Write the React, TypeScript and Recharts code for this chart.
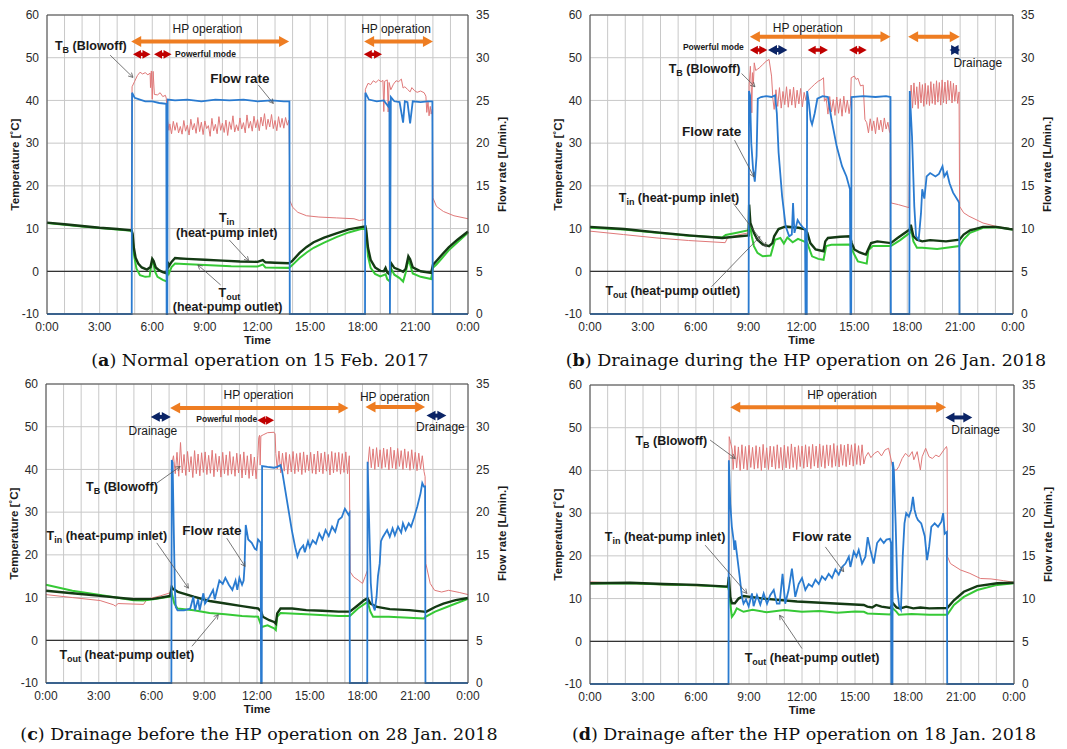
import React from 'react';
import { LineChart, Line, XAxis, YAxis, CartesianGrid, ReferenceLine, ReferenceDot } from 'recharts';

type Pt = [number, number];

// axis ticks
const HOURS = [0, 1, 2, 3, 4, 5, 6, 7, 8, 9, 10, 11, 12, 13, 14, 15, 16, 17, 18, 19, 20, 21, 22, 23, 24];
const TEMP_TICKS = [-10, 0, 10, 20, 30, 40, 50, 60];
const FLOW_TICKS = [0, 5, 10, 15, 20, 25, 30, 35];

// (a) 15 Feb. 2017 — [hour, value]
const aBlowoff: Pt[] = [
  [0, 11.3], [2, 10.5], [4.8, 9.6], [4.85, 43.2], [5.0, 44.5], [5.15, 45.8], [5.3, 46.6], [5.45, 46.2], [5.6, 46.5], [5.75, 46.0],
  [5.88, 46.4], [5.9, 43.0], [5.95, 46.9], [6.0, 40.3], [6.05, 46.8], [6.12, 41.4], [6.3, 41.3], [6.45, 41.8], [6.6, 40.9], [6.75, 41.2],
  [6.8, 40.5], [6.88, 35.2], [6.95, 33.0],
  [7.0, 34.5], [7.1, 32.2], [7.2, 35.1], [7.3, 33.0], [7.4, 34.8], [7.5, 32.4], [7.6, 33.9], [7.7, 32.1], [7.8, 35.3], [7.9, 32.8],
  [8.0, 34.2], [8.1, 31.9], [8.2, 35.6], [8.3, 33.1], [8.4, 34.6], [8.5, 32.3], [8.6, 36.0], [8.7, 32.7], [8.8, 34.9], [8.9, 32.0],
  [9.0, 35.2], [9.1, 33.4], [9.2, 34.1], [9.3, 31.6], [9.4, 35.8], [9.5, 32.9], [9.6, 34.4], [9.7, 32.2], [9.8, 36.2], [9.9, 33.0],
  [10.0, 34.7], [10.1, 32.5], [10.2, 35.4], [10.3, 31.8], [10.4, 35.0], [10.5, 33.2], [10.6, 36.4], [10.7, 32.6], [10.8, 34.3], [10.9, 32.9],
  [11.0, 35.9], [11.1, 33.3], [11.2, 34.8], [11.3, 32.4], [11.4, 36.6], [11.5, 33.5], [11.6, 35.1], [11.7, 32.8], [11.8, 36.3], [11.9, 33.6],
  [12.0, 35.5], [12.1, 32.9], [12.2, 36.1], [12.3, 34.0], [12.4, 36.9], [12.5, 33.2], [12.6, 35.6], [12.7, 33.8], [12.8, 36.7], [12.9, 33.4],
  [13.0, 35.3], [13.1, 32.9], [13.2, 36.2], [13.3, 33.7], [13.4, 35.8], [13.5, 33.5], [13.6, 36.0], [13.7, 34.2], [13.8, 35.4],
  [13.85, 16.5], [14.0, 15.0], [14.3, 13.8], [14.8, 13.0], [15.5, 12.7], [16.5, 12.5], [17.5, 12.3], [17.8, 11.9], [18.1, 12.1],
  [18.15, 42.6], [18.3, 44.0], [18.45, 43.7], [18.6, 44.6], [18.75, 44.2], [18.9, 44.8], [19.05, 44.4], [19.15, 44.7], [19.2, 37.4],
  [19.25, 44.5], [19.4, 44.8], [19.45, 37.3], [19.5, 44.2], [19.6, 42.5], [19.75, 43.8], [19.9, 44.6], [20.05, 44.4], [20.2, 45.0],
  [20.3, 42.9], [20.4, 43.2], [20.55, 42.6], [20.7, 42.0], [20.8, 43.0], [20.95, 42.3], [21.1, 41.9], [21.3, 42.2], [21.5, 41.8],
  [21.6, 41.0], [21.65, 37.2], [21.72, 39.8], [21.78, 36.4], [21.85, 38.6], [21.9, 36.8], [21.97, 38.0], [22.0, 17.2], [22.2, 15.2],
  [22.6, 14.0], [23.2, 13.0], [24, 12.3],
];
const aTin: Pt[] = [
  [0, 11.4], [1, 11.0], [2, 10.6], [3, 10.2], [4, 9.9], [4.82, 9.6], [4.88, 8.8], [4.95, 5.5], [5.05, 3.2], [5.2, 1.8], [5.4, 0.9],
  [5.7, 0.4], [5.9, 1.0], [6.0, 2.9], [6.08, 2.4], [6.2, 0.9], [6.4, 0.2], [6.6, -0.2], [6.83, -0.5], [6.88, 2.2], [6.95, 1.2],
  [7.1, 2.2], [7.3, 3.1], [7.6, 3.0], [8.0, 2.9], [9.0, 2.7], [10.0, 2.5], [11.0, 2.3], [12.0, 2.2], [12.3, 2.6], [12.45, 2.1],
  [13.0, 2.0], [13.8, 1.9], [14.0, 2.5], [14.4, 4.3], [14.8, 5.7], [15.2, 6.8], [15.8, 7.9], [16.5, 8.9], [17.2, 9.8], [18.15, 10.5],
  [18.2, 9.5], [18.3, 5.5], [18.45, 2.7], [18.7, 0.9], [19.0, 0.1], [19.2, 0.0], [19.3, 0.8], [19.4, -0.3], [19.55, -0.8], [19.6, 2.0],
  [19.8, 0.8], [20.1, 0.3], [20.3, -0.1], [20.45, 0.6], [20.6, 3.5], [20.7, 2.8], [20.85, 0.9], [21.3, 0.0], [21.9, -0.4], [22.0, 1.5],
  [22.2, 2.4], [22.5, 3.8], [22.9, 5.6], [23.4, 7.4], [24, 9.3],
];
const aTout: Pt[] = [
  [0, 11.3], [2, 10.5], [4, 9.8], [4.82, 9.5], [4.88, 8.0], [4.95, 4.0], [5.1, 0.6], [5.3, -0.9], [5.6, -1.3], [5.85, -1.2],
  [5.95, 1.6], [6.05, 2.3], [6.15, 0.0], [6.3, -1.3], [6.6, -2.0], [6.83, -2.4], [6.88, 0.4], [6.95, -0.5], [7.1, 1.0], [7.3, 1.8],
  [7.8, 1.7], [9.0, 1.5], [10.5, 1.2], [12.0, 1.1], [12.3, 1.6], [12.45, 0.9], [13.8, 0.8], [14.0, 1.5], [14.4, 3.1], [14.8, 4.4],
  [15.2, 5.5], [15.8, 6.7], [16.5, 8.0], [17.2, 9.1], [18.15, 10.2], [18.2, 8.8], [18.3, 3.5], [18.45, 0.8], [18.7, -0.6], [19.0, -1.2],
  [19.3, -0.7], [19.4, -1.9], [19.55, -2.4], [19.6, 0.8], [19.8, -0.8], [20.1, -1.6], [20.3, -2.4], [20.45, -0.3], [20.6, 2.7],
  [20.7, 1.6], [20.85, -0.5], [21.3, -1.3], [21.9, -1.8], [22.0, 0.8], [22.2, 1.6], [22.5, 3.0], [22.9, 4.9], [23.4, 6.8], [24, 9.0],
];
const aFlow: Pt[] = [
  [0, 0], [4.83, 0], [4.85, 25.9], [5.0, 25.3], [5.3, 25.1], [5.6, 24.9], [6.0, 24.9], [6.4, 24.7], [6.8, 24.6], [6.82, 0], [6.86, 0],
  [6.88, 25.1], [7.3, 25.0], [8.0, 25.1], [8.8, 24.9], [9.6, 25.1], [10.4, 25.0], [11.2, 25.1], [12.0, 24.9], [12.8, 25.0], [13.5, 24.9],
  [13.82, 24.9], [13.84, 0], [18.13, 0], [18.15, 25.9], [18.35, 25.1], [18.8, 24.9], [19.2, 25.0], [19.45, 24.3], [19.52, 24.9],
  [19.55, 0], [19.6, 25.4], [19.8, 24.9], [20.1, 24.8], [20.3, 22.4], [20.4, 24.9], [20.55, 24.8], [20.7, 22.3], [20.85, 24.9],
  [21.3, 24.8], [21.7, 24.9], [21.97, 24.9], [21.99, 0], [24, 0],
];

// (b) 26 Jan. 2018
const bBlowoff: Pt[] = [
  [0, 9.4], [1.9, 8.6], [3.8, 7.8], [5.6, 7.2], [7.67, 6.7], [7.8, 7.8], [8.5, 8.6], [9.0, 9.0], [9.03, 43.4], [9.1, 48.0], [9.15, 43.0],
  [9.18, 37.1], [9.22, 46.5], [9.27, 43.8], [9.32, 48.8], [9.4, 47.0], [9.5, 47.3], [9.6, 47.6], [9.8, 48.4], [10.0, 49.2], [10.16, 49.6],
  [10.3, 45.7], [10.38, 40.2], [10.45, 37.9], [10.55, 42.5], [10.65, 38.6], [10.75, 43.0], [10.85, 38.2], [10.95, 42.1], [11.05, 39.0],
  [11.15, 43.2], [11.25, 38.4], [11.35, 42.6], [11.45, 38.9], [11.55, 43.1], [11.65, 38.3], [11.75, 42.4], [11.85, 39.2], [11.95, 42.8],
  [12.05, 38.5], [12.15, 41.9], [12.25, 40.0], [12.35, 42.2], [12.55, 43.0], [12.75, 43.8], [12.95, 44.5], [13.1, 44.8], [13.25, 45.3],
  [13.3, 39.8], [13.4, 40.5], [13.5, 36.8], [13.6, 40.9], [13.7, 37.3], [13.8, 40.2], [13.9, 36.5], [14.0, 40.8], [14.1, 37.0],
  [14.2, 40.4], [14.3, 36.3], [14.4, 41.0], [14.5, 37.2], [14.6, 40.1], [14.7, 36.9], [14.78, 39.2], [14.82, 45.3], [15.0, 45.7],
  [15.1, 44.9], [15.2, 45.2], [15.35, 43.4], [15.5, 43.6], [15.6, 35.5], [15.7, 34.8], [15.8, 32.4], [15.9, 35.7], [16.0, 32.9],
  [16.1, 35.2], [16.2, 32.2], [16.3, 36.0], [16.4, 33.1], [16.5, 35.4], [16.6, 32.6], [16.7, 35.9], [16.8, 33.3], [16.9, 34.9],
  [17.0, 32.5], [17.05, 34.4], [17.08, 16.0], [17.5, 15.6], [18.1, 14.9], [18.15, 38.5], [18.22, 43.6], [18.3, 38.2], [18.38, 44.1],
  [18.46, 39.0], [18.54, 43.2], [18.62, 38.1], [18.7, 44.3], [18.78, 39.4], [18.86, 43.7], [18.94, 38.6], [19.02, 44.0], [19.1, 39.1],
  [19.18, 43.5], [19.26, 38.8], [19.34, 44.4], [19.42, 39.3], [19.5, 43.9], [19.58, 39.0], [19.66, 44.6], [19.74, 39.6], [19.82, 44.2],
  [19.9, 38.9], [19.98, 44.8], [20.06, 39.5], [20.14, 44.3], [20.22, 39.2], [20.3, 44.7], [20.38, 40.1], [20.46, 44.5], [20.54, 39.4],
  [20.62, 44.0], [20.7, 39.8], [20.78, 43.6], [20.86, 39.3], [20.94, 42.0], [20.97, 15.2], [21.2, 13.7], [21.5, 12.9], [22.3, 11.3],
  [23.05, 10.5], [23.8, 10.0], [24, 9.6],
];
const bTin: Pt[] = [
  [0, 10.4], [1.93, 9.9], [3.8, 9.1], [5.6, 8.4], [7.5, 7.8], [8.2, 8.1], [9.0, 8.4], [9.03, 15.6], [9.1, 11.3], [9.3, 9.0], [9.5, 7.4],
  [9.8, 6.3], [10.16, 5.9], [10.35, 6.6], [10.45, 8.2], [10.7, 9.9], [11.1, 10.5], [11.5, 10.3], [11.84, 10.2], [12.2, 9.8], [12.33, 9.0],
  [12.5, 6.6], [12.8, 5.1], [13.25, 4.7], [13.35, 7.0], [13.5, 7.8], [14.2, 8.1], [14.75, 8.2], [14.85, 6.6], [15.0, 5.1], [15.3, 4.4],
  [15.65, 3.9], [15.78, 5.1], [15.95, 6.6], [16.3, 7.0], [17.07, 6.6], [17.45, 7.8], [18.14, 9.8], [18.2, 10.9], [18.35, 8.2],
  [18.55, 7.4], [18.85, 7.0], [19.3, 7.3], [20.2, 7.0], [20.96, 7.4], [21.2, 8.6], [21.56, 9.6], [22.3, 10.4], [23.05, 10.4],
  [23.8, 9.9], [24, 9.8],
];
const bTout: Pt[] = [
  [0, 10.2], [1.9, 9.8], [3.8, 9.0], [5.6, 8.3], [7.5, 7.9], [7.7, 8.5], [8.4, 9.1], [9.0, 9.6], [9.03, 12.1], [9.18, 8.2], [9.3, 5.9],
  [9.5, 4.3], [9.8, 3.5], [10.25, 3.7], [10.4, 5.9], [10.5, 7.4], [10.8, 7.8], [11.0, 6.5], [11.2, 7.9], [11.5, 6.8], [11.8, 7.6],
  [12.2, 6.9], [12.33, 6.6], [12.6, 3.5], [12.95, 2.9], [13.25, 2.7], [13.4, 5.9], [13.7, 6.2], [14.75, 6.25], [14.95, 4.3], [15.2, 2.3],
  [15.7, 1.8], [15.8, 5.0], [16.05, 5.9], [17.07, 5.9], [17.6, 7.3], [18.14, 9.0], [18.2, 10.2], [18.35, 7.0], [18.55, 5.5],
  [18.85, 5.5], [19.7, 5.2], [20.96, 5.9], [21.2, 7.5], [21.56, 9.0], [22.3, 10.2], [23.05, 10.3], [23.8, 9.9], [24, 9.7],
];
const bFlow: Pt[] = [
  [0, 0], [9.0, 0], [9.02, 26.1], [9.08, 25.6], [9.15, 20.0], [9.25, 17.0], [9.35, 15.5], [9.45, 18.5], [9.52, 25.2], [9.7, 25.4],
  [10.0, 25.5], [10.3, 25.4], [10.5, 25.6], [10.6, 23.5], [10.7, 18.9], [10.9, 13.8], [11.1, 10.3], [11.3, 9.1], [11.45, 9.3],
  [11.52, 13.0], [11.6, 9.5], [11.78, 11.0], [11.9, 10.6], [12.05, 10.2], [12.2, 9.9], [12.23, 0], [12.3, 0], [12.32, 26.1],
  [12.42, 24.7], [12.52, 22.7], [12.6, 22.2], [12.75, 23.5], [12.9, 25.2], [13.2, 25.5], [13.5, 25.4], [13.7, 22.8], [14.0, 19.6],
  [14.3, 17.3], [14.55, 16.1], [14.75, 14.6], [14.78, 0], [14.82, 0], [14.84, 25.4], [15.5, 25.5], [16.2, 25.4], [16.8, 25.5],
  [17.05, 25.4], [17.07, 0], [18.12, 0], [18.14, 26.1], [18.27, 20.8], [18.4, 12.6], [18.5, 9.1], [18.65, 8.7], [18.78, 11.8],
  [18.85, 14.6], [18.97, 13.5], [19.1, 16.1], [19.3, 16.5], [19.6, 16.1], [19.8, 16.4], [20.0, 17.3], [20.1, 16.1], [20.25, 16.6],
  [20.4, 15.3], [20.6, 14.2], [20.9, 13.2], [20.94, 13.0], [20.96, 0], [24, 0],
];

// (c) 28 Jan. 2018
const cBlowoff: Pt[] = [
  [0, 10.7], [1.5, 10.0], [3.08, 9.3], [3.85, 8.3], [3.94, 8.0], [4.1, 8.6], [5.55, 8.4], [5.74, 9.6], [6.5, 10.4], [7.06, 11.1],
  [7.12, 12.0], [7.17, 41.5], [7.25, 43.2], [7.35, 39.0], [7.45, 44.0], [7.55, 38.4], [7.65, 46.3], [7.75, 39.2], [7.85, 43.5],
  [7.95, 38.6], [8.05, 44.2], [8.15, 39.4], [8.25, 43.0], [8.35, 38.1], [8.45, 44.4], [8.55, 39.0], [8.65, 43.6], [8.75, 38.5],
  [8.85, 43.9], [8.95, 39.3], [9.05, 44.1], [9.15, 38.8], [9.25, 43.3], [9.35, 39.1], [9.45, 44.5], [9.55, 38.3], [9.65, 43.7],
  [9.75, 39.5], [9.85, 43.1], [9.95, 38.2], [10.05, 44.0], [10.15, 39.0], [10.25, 43.4], [10.35, 38.6], [10.45, 44.2], [10.55, 38.9],
  [10.65, 43.0], [10.75, 38.4], [10.85, 43.8], [10.95, 39.2], [11.05, 43.5], [11.15, 38.0], [11.25, 44.1], [11.35, 38.7], [11.45, 43.2],
  [11.55, 37.9], [11.65, 43.6], [11.75, 38.5], [11.85, 42.9], [11.95, 37.8], [12.05, 43.3], [12.1, 47.5], [12.15, 48.0], [12.18, 41.0],
  [12.22, 47.8], [12.35, 48.1], [12.6, 48.6], [12.97, 48.7], [13.03, 48.3], [13.07, 43.7], [13.15, 40.1], [13.25, 44.3], [13.35, 39.2],
  [13.45, 43.8], [13.55, 39.6], [13.65, 44.0], [13.75, 38.9], [13.85, 43.5], [13.95, 39.4], [14.05, 44.2], [14.15, 39.0], [14.25, 43.7],
  [14.35, 39.5], [14.45, 43.9], [14.55, 38.8], [14.65, 44.1], [14.75, 39.3], [14.85, 43.4], [14.95, 39.7], [15.05, 44.0], [15.15, 39.1],
  [15.25, 43.6], [15.35, 38.9], [15.45, 44.3], [15.55, 39.4], [15.65, 43.8], [15.75, 39.0], [15.85, 44.1], [15.95, 39.6], [16.05, 43.5],
  [16.15, 38.7], [16.25, 44.2], [16.35, 39.2], [16.45, 43.9], [16.55, 39.5], [16.65, 44.0], [16.75, 38.9], [16.85, 43.7], [16.95, 39.3],
  [17.05, 44.1], [17.15, 39.0], [17.25, 43.2], [17.3, 16.0], [17.5, 14.8], [17.75, 14.1], [18.0, 13.3], [18.15, 14.9], [18.28, 16.4],
  [18.31, 41.0], [18.4, 45.3], [18.5, 40.4], [18.6, 44.8], [18.7, 40.0], [18.8, 45.1], [18.9, 40.6], [19.0, 44.6], [19.1, 40.2],
  [19.2, 45.0], [19.3, 40.5], [19.4, 44.7], [19.5, 39.9], [19.6, 45.2], [19.7, 40.3], [19.8, 44.5], [19.9, 40.1], [20.0, 44.9],
  [20.1, 40.7], [20.2, 44.4], [20.3, 40.0], [20.4, 44.8], [20.5, 40.4], [20.6, 44.2], [20.7, 39.8], [20.8, 44.6], [20.9, 40.2],
  [21.0, 44.0], [21.1, 39.7], [21.2, 43.8], [21.3, 40.1], [21.4, 43.2], [21.5, 39.5], [21.56, 38.3], [21.6, 18.0], [21.85, 13.3],
  [22.1, 11.7], [22.5, 11.3], [22.9, 11.7], [23.5, 11.2], [24, 10.7],
];
const cTin: Pt[] = [
  [0, 11.6], [1.5, 11.0], [3.08, 10.4], [4.98, 9.6], [6.1, 9.7], [7.06, 10.4], [7.15, 12.5], [7.2, 12.1], [7.5, 11.35], [8.4, 10.2],
  [9.3, 9.2], [10.2, 8.6], [11.15, 8.0], [12.06, 7.45], [12.24, 6.7], [12.33, 5.5], [12.7, 4.7], [12.97, 4.3], [13.07, 3.9],
  [13.15, 6.3], [13.34, 7.45], [14.0, 7.45], [14.8, 7.05], [15.7, 6.9], [16.64, 6.7], [17.28, 6.7], [17.74, 8.2], [18.1, 9.4],
  [18.29, 9.8], [18.45, 8.6], [18.83, 7.8], [19.55, 7.3], [20.65, 7.05], [21.49, 6.7], [21.58, 6.6], [22.13, 7.8], [22.6, 8.6],
  [23.3, 9.4], [24, 9.9],
];
const cTout: Pt[] = [
  [0, 13.0], [1.5, 11.6], [3.08, 10.6], [4.98, 9.4], [5.55, 9.3], [6.1, 9.6], [7.06, 10.2], [7.15, 11.0], [7.3, 8.6], [7.48, 7.45],
  [8.4, 7.05], [9.3, 6.4], [10.2, 6.1], [11.15, 5.7], [12.06, 5.5], [12.2, 3.9], [12.27, 3.1], [12.6, 3.5], [12.97, 2.8], [13.07, 2.4],
  [13.15, 5.5], [13.34, 6.4], [14.8, 6.1], [16.64, 5.7], [17.28, 5.7], [17.74, 7.45], [18.29, 9.0], [18.45, 6.7], [18.6, 5.5],
  [19.5, 5.5], [21.49, 5.1], [21.58, 5.5], [22.13, 6.7], [23.05, 8.2], [24, 9.7],
];
const cFlow: Pt[] = [
  [0, 0], [7.13, 0], [7.15, 26.1], [7.2, 25.8], [7.26, 18.7], [7.33, 10.9], [7.38, 8.9], [7.48, 8.5], [7.85, 8.5], [8.2, 8.7],
  [8.38, 10.1], [8.47, 8.5], [8.65, 9.8], [8.74, 8.5], [8.95, 10.5], [9.04, 9.3], [9.3, 10.1], [9.5, 10.9], [9.6, 9.8], [9.86, 12.0],
  [10.05, 11.6], [10.2, 12.3], [10.4, 11.5], [10.6, 10.9], [10.78, 12.0], [10.88, 10.9], [11.0, 12.3], [11.15, 11.5], [11.24, 12.0],
  [11.29, 13.6], [11.36, 18.5], [11.5, 16.8], [11.7, 16.4], [11.88, 15.7], [11.97, 15.6], [12.06, 16.8], [12.15, 16.6], [12.21, 16.4],
  [12.23, 0], [12.27, 0], [12.29, 25.4], [12.6, 25.3], [12.97, 25.2], [13.15, 25.3], [13.34, 25.5], [13.43, 24.8], [13.7, 21.4],
  [13.98, 17.9], [14.17, 15.9], [14.3, 14.8], [14.44, 15.6], [14.63, 16.1], [14.72, 15.3], [14.9, 16.6], [15.0, 15.9], [15.17, 16.7],
  [15.35, 16.3], [15.54, 17.5], [15.72, 16.8], [15.9, 17.9], [16.08, 17.2], [16.27, 18.3], [16.45, 17.7], [16.64, 19.1], [16.82, 19.4],
  [17.0, 20.4], [17.2, 19.7], [17.26, 19.9], [17.28, 0], [18.27, 0], [18.29, 25.9], [18.38, 18.7], [18.47, 11.7], [18.56, 9.3],
  [18.7, 8.5], [18.8, 10.1], [18.88, 12.5], [18.98, 14.0], [19.05, 16.6], [19.16, 17.1], [19.28, 17.5], [19.4, 17.9], [19.55, 17.1],
  [19.71, 18.1], [19.84, 17.3], [20.02, 18.3], [20.2, 17.6], [20.3, 18.7], [20.45, 17.9], [20.63, 18.7], [20.76, 18.3], [20.94, 19.4],
  [21.12, 20.7], [21.3, 22.2], [21.4, 23.4], [21.49, 23.0], [21.56, 23.0], [21.58, 0], [24, 0],
];

// (d) 18 Jan. 2018
const dBlowoff: Pt[] = [
  [0, 13.9], [4.16, 13.2], [7.75, 12.8], [7.86, 13.0], [7.88, 47.9], [7.95, 46.7], [8.05, 44.8], [8.1, 40.2], [8.2, 45.8], [8.3, 40.6],
  [8.4, 45.5], [8.5, 40.0], [8.6, 46.0], [8.7, 40.4], [8.8, 45.6], [8.9, 40.1], [9.0, 45.9], [9.1, 40.7], [9.2, 45.4], [9.3, 40.3],
  [9.4, 45.8], [9.5, 40.5], [9.6, 45.5], [9.7, 40.0], [9.8, 46.1], [9.9, 40.6], [10.0, 45.3], [10.1, 40.2], [10.2, 45.7], [10.3, 40.8],
  [10.4, 45.6], [10.5, 40.3], [10.6, 46.0], [10.7, 40.5], [10.8, 45.4], [10.9, 40.1], [11.0, 45.9], [11.1, 40.6], [11.2, 45.6],
  [11.3, 40.4], [11.4, 46.2], [11.5, 40.7], [11.6, 45.5], [11.7, 40.2], [11.8, 45.8], [11.9, 40.9], [12.0, 45.7], [12.1, 40.5],
  [12.2, 46.0], [12.3, 40.8], [12.4, 45.6], [12.5, 40.4], [12.6, 46.1], [12.7, 41.0], [12.8, 45.7], [12.9, 40.6], [13.0, 46.2],
  [13.1, 40.9], [13.2, 45.8], [13.3, 40.5], [13.4, 46.0], [13.5, 41.1], [13.6, 45.9], [13.7, 40.7], [13.8, 46.3], [13.9, 41.0],
  [14.0, 45.8], [14.1, 40.8], [14.2, 46.1], [14.3, 41.2], [14.4, 45.9], [14.5, 40.9], [14.6, 46.2], [14.7, 41.3], [14.8, 46.0],
  [14.9, 41.0], [15.0, 46.3], [15.1, 41.4], [15.2, 45.8], [15.3, 41.2], [15.4, 46.0], [15.5, 41.5], [15.6, 43.2], [15.75, 44.2],
  [15.9, 43.0], [16.1, 44.0], [16.3, 44.5], [16.5, 43.4], [16.7, 44.8], [16.9, 45.2], [17.05, 42.4], [17.15, 40.1], [17.35, 40.1],
  [17.48, 40.9], [17.67, 42.8], [17.86, 44.0], [18.05, 43.2], [18.24, 44.4], [18.33, 42.5], [18.52, 44.4], [18.7, 40.1], [18.8, 43.2],
  [19.0, 45.2], [19.19, 43.2], [19.38, 42.8], [19.57, 43.6], [19.76, 43.2], [20.03, 44.8], [20.18, 45.6], [20.21, 45.0], [20.24, 19.8],
  [20.4, 18.2], [20.97, 16.7], [21.5, 15.9], [22.1, 14.7], [22.7, 14.6], [23.4, 14.2], [24, 13.8],
];
const dTin: Pt[] = [
  [0, 13.6], [2.27, 13.7], [4.16, 13.4], [6.05, 13.2], [7.8, 12.8], [7.86, 15.1], [7.94, 10.4], [8.03, 8.9], [8.2, 8.9], [8.41, 10.0],
  [8.69, 10.6], [9.83, 10.0], [11.72, 9.3], [13.6, 8.9], [15.5, 8.5], [15.7, 8.1], [15.97, 7.9], [16.2, 8.5], [16.5, 8.1], [17.0, 7.8],
  [17.15, 8.9], [17.35, 7.9], [17.55, 7.7], [17.9, 8.1], [18.3, 7.7], [18.7, 7.9], [19.2, 7.7], [20.22, 7.8], [20.6, 9.6],
  [21.16, 11.6], [21.92, 12.9], [23.05, 13.6], [24, 13.7],
];
const dTout: Pt[] = [
  [0, 13.5], [2.27, 13.6], [4.16, 13.3], [6.05, 13.1], [7.8, 12.7], [7.86, 12.0], [7.94, 8.9], [8.03, 5.7], [8.17, 6.5], [8.31, 7.7],
  [8.69, 6.9], [9.2, 7.4], [10.0, 6.8], [11.0, 7.3], [12.0, 6.9], [13.0, 7.1], [14.0, 6.7], [15.0, 7.0], [15.5, 6.9], [15.7, 6.5],
  [17.0, 6.3], [17.15, 7.7], [17.35, 6.9], [17.48, 6.2], [18.2, 6.4], [19.2, 6.2], [20.22, 6.2], [20.6, 8.5], [21.16, 10.4],
  [21.92, 12.0], [23.05, 13.2], [24, 13.6],
];
const dFlow: Pt[] = [
  [0, 0], [7.84, 0], [7.86, 26.2], [7.94, 21.1], [8.03, 18.4], [8.13, 16.8], [8.17, 15.7], [8.22, 16.8], [8.31, 15.3], [8.47, 12.6],
  [8.6, 10.2], [8.69, 9.4], [8.83, 9.9], [8.98, 9.1], [9.17, 10.6], [9.26, 9.1], [9.45, 10.4], [9.64, 9.3], [9.83, 10.6], [10.02, 9.4],
  [10.2, 10.4], [10.4, 11.0], [10.58, 9.4], [10.73, 9.4], [10.9, 12.9], [11.05, 9.4], [11.24, 11.0], [11.43, 13.5], [11.62, 10.2],
  [11.81, 11.7], [12.0, 12.4], [12.19, 11.0], [12.38, 11.7], [12.57, 11.4], [12.76, 12.2], [12.95, 11.7], [13.13, 12.6], [13.32, 12.2],
  [13.51, 12.9], [13.7, 12.4], [13.89, 13.4], [14.08, 12.8], [14.27, 13.7], [14.46, 14.1], [14.65, 14.9], [14.74, 13.7], [14.93, 15.5],
  [15.08, 14.9], [15.21, 15.7], [15.4, 14.1], [15.59, 14.9], [15.72, 17.2], [15.87, 15.7], [16.06, 14.1], [16.25, 16.5], [16.44, 17.0],
  [16.63, 16.5], [16.78, 16.9], [16.97, 17.0], [17.04, 16.5], [17.06, 0], [17.12, 0], [17.14, 26.0], [17.2, 25.0], [17.3, 18.8],
  [17.4, 11.0], [17.5, 9.1], [17.6, 8.7], [17.7, 14.9], [17.8, 18.8], [17.9, 20.0], [18.05, 19.6], [18.18, 20.4], [18.28, 21.9],
  [18.37, 20.4], [18.47, 19.6], [18.56, 19.2], [18.75, 18.8], [18.95, 17.3], [19.08, 14.5], [19.2, 16.1], [19.32, 18.4], [19.51, 18.8],
  [19.7, 18.4], [19.89, 19.0], [19.99, 20.0], [20.08, 17.6], [20.2, 17.8], [20.22, 0], [24, 0],
];

const ORANGE = '#ee7d22';
const RED = '#c00000';
const NAVY = '#0b2466';
const FONT = '"Liberation Sans", Arial, sans-serif';

const rows = (s: Pt[]) => s.map(([t, v]) => ({ t, v }));
const hourLabel = (v: number) => (v % 3 === 0 ? `${v % 24}:00` : '');

const dblArrow = (color: string, w: number, head: number) => (p: any) => {
  const { x1, y1, x2, y2 } = p;
  const hh = head * 0.55;
  return (
    <g>
      <line x1={x1 + head * 0.8} y1={y1} x2={x2 - head * 0.8} y2={y2} stroke={color} strokeWidth={w} />
      <polygon points={`${x1},${y1} ${x1 + head},${y1 - hh} ${x1 + head},${y1 + hh}`} fill={color} />
      <polygon points={`${x2},${y2} ${x2 - head},${y2 - hh} ${x2 - head},${y2 + hh}`} fill={color} />
    </g>
  );
};

const leaderShape = (p: any) => {
  const { x1, y1, x2, y2 } = p;
  const a = Math.atan2(y2 - y1, x2 - x1);
  const s = 5;
  const pa = `${x2 - s * Math.cos(a - 0.5)},${y2 - s * Math.sin(a - 0.5)}`;
  const pb = `${x2 - s * Math.cos(a + 0.5)},${y2 - s * Math.sin(a + 0.5)}`;
  return (
    <g>
      <line x1={x1} y1={y1} x2={x2} y2={y2} stroke="#555" strokeWidth={0.8} />
      <polyline points={`${pa} ${x2},${y2} ${pb}`} fill="none" stroke="#555" strokeWidth={0.8} />
    </g>
  );
};

function arrow(key: string, x1: number, x2: number, y: number, kind: 'hp' | 'pw' | 'dr') {
  const shape = kind === 'hp' ? dblArrow(ORANGE, 4, 10) : kind === 'pw' ? dblArrow(RED, 3.5, 8) : dblArrow(NAVY, 4, 9);
  return (
    <ReferenceLine key={key} yAxisId="t" ifOverflow="visible" segment={[{ x: x1, y }, { x: x2, y }]} shape={shape} />
  );
}

function leader(key: string, x1: number, y1: number, x2: number, y2: number) {
  return (
    <ReferenceLine key={key} yAxisId="t" ifOverflow="visible" segment={[{ x: x1, y: y1 }, { x: x2, y: y2 }]} shape={leaderShape} />
  );
}

function note(key: string, x: number, y: number, body: React.ReactNode, size = 12.5, bold = true, anchor = 'middle') {
  return (
    <ReferenceDot
      key={key}
      yAxisId="t"
      x={x}
      y={y}
      r={1}
      ifOverflow="visible"
      shape={(p: any) => (
        <text x={p.cx} y={p.cy} dy="0.36em" textAnchor={anchor} fontSize={size} fontWeight={bold ? 'bold' : 'normal'} fill="#1a1a1a">
          {body}
        </text>
      )}
    />
  );
}

const withSub = (main: string, sub: string, rest: string, size = 12.5) => [
  <tspan key="m">{main}</tspan>,
  <tspan key="s" fontSize={size * 0.72} dy={3}>{sub}</tspan>,
  <tspan key="r" dy={-3}>{rest}</tspan>,
];

interface PanelProps {
  left: number;
  top: number;
  w: number;
  h: number;
  blowoff: Pt[];
  tin: Pt[];
  tout: Pt[];
  flow: Pt[];
  notes: React.ReactNode[];
}

function Panel({ left, top, w, h, blowoff, tin, tout, flow, notes }: PanelProps) {
  const axisText = { fontSize: 12, fill: '#2a2a2a' };
  const titleStyle = { textAnchor: 'middle', fontWeight: 'bold', fontSize: 11.5, fill: '#1a1a1a' } as any;
  return (
    <div style={{ position: 'absolute', left: left - 47, top: top - 15, fontFamily: FONT }}>
      <LineChart width={w + 99} height={h + 46} margin={{ top: 15, right: 0, bottom: 0, left: 0 }}>
        <CartesianGrid yAxisId="t" stroke="#c8c8c8" />
        <XAxis
          type="number"
          dataKey="t"
          domain={[0, 24]}
          ticks={HOURS}
          interval={0}
          tickFormatter={hourLabel}
          tickLine={false}
          axisLine={{ stroke: '#4a4a4a' }}
          tick={axisText}
          height={31}
          label={{ value: 'Time', position: 'insideBottom', offset: 1, style: titleStyle }}
        />
        <YAxis
          yAxisId="t"
          domain={[-10, 60]}
          ticks={TEMP_TICKS}
          interval={0}
          tickLine={false}
          axisLine={{ stroke: '#4a4a4a' }}
          tick={axisText}
          width={47}
          label={{ value: 'Temperature [˚C]', angle: -90, position: 'insideLeft', offset: 15, style: titleStyle }}
        />
        <YAxis
          yAxisId="f"
          orientation="right"
          domain={[0, 35]}
          ticks={FLOW_TICKS}
          interval={0}
          tickLine={false}
          axisLine={{ stroke: '#4a4a4a' }}
          tick={axisText}
          width={52}
          label={{ value: 'Flow rate [L/min.]', angle: -90, position: 'insideRight', offset: 18, style: titleStyle }}
        />
        <ReferenceLine yAxisId="t" y={60} stroke="#4a4a4a" />
        <ReferenceLine yAxisId="t" y={0} stroke="#333" strokeWidth={1.3} />
        <Line yAxisId="t" data={rows(blowoff)} dataKey="v" type="linear" stroke="#e07878" strokeWidth={1} dot={false} isAnimationActive={false} />
        <Line yAxisId="t" data={rows(tout)} dataKey="v" type="linear" stroke="#36c936" strokeWidth={2} dot={false} isAnimationActive={false} />
        <Line yAxisId="t" data={rows(tin)} dataKey="v" type="linear" stroke="#143a14" strokeWidth={2.4} dot={false} isAnimationActive={false} />
        <Line yAxisId="f" data={rows(flow)} dataKey="v" type="linear" stroke="#2a7bd0" strokeWidth={1.8} dot={false} isAnimationActive={false} />
        {notes}
      </LineChart>
    </div>
  );
}

const notesA = [
  note('a1', 9.15, 56.9, 'HP operation', 12, false),
  arrow('a2', 4.8, 13.8, 53.8, 'hp'),
  note('a3', 19.9, 56.9, 'HP operation', 12, false),
  arrow('a4', 18.08, 22.0, 53.8, 'hp'),
  arrow('a5', 4.9, 5.9, 50.8, 'pw'),
  arrow('a6', 6.1, 7.1, 50.8, 'pw'),
  arrow('a7', 18.06, 19.1, 50.8, 'pw'),
  note('a8', 7.3, 51.0, 'Powerful mode', 8.5, true, 'start'),
  note('a9', 2.5, 52.8, withSub('T', 'B', ' (Blowoff)')),
  leader('a10', 3.6, 50.6, 4.9, 45.4),
  note('a11', 11.0, 45.2, 'Flow rate', 13.5),
  leader('a12', 12.05, 43.6, 12.9, 39.3),
  note('a13', 10.25, 12.6, withSub('T', 'in', '')),
  note('a14', 10.25, 9.1, '(heat-pump inlet)'),
  leader('a15', 10.4, 7.3, 11.5, 2.4),
  note('a16', 10.4, -4.95, withSub('T', 'out', '')),
  note('a17', 10.3, -8.2, '(heat-pump outlet)'),
  leader('a18', 9.9, -3.2, 8.6, 1.5),
];

const notesB = [
  note('b1', 12.35, 57.1, 'HP operation', 12, false),
  arrow('b2', 9.07, 17.05, 54.9, 'hp'),
  arrow('b3', 18.05, 20.98, 54.9, 'hp'),
  note('b4', 7.0, 52.6, 'Powerful mode', 8.5),
  arrow('b5', 9.07, 10.06, 51.8, 'pw'),
  arrow('b6', 10.1, 11.2, 51.8, 'dr'),
  arrow('b7', 12.35, 13.5, 51.8, 'pw'),
  arrow('b8', 14.7, 15.7, 51.8, 'pw'),
  arrow('b9', 20.4, 21.0, 51.8, 'dr'),
  note('b10', 22.0, 48.9, 'Drainage', 12, false),
  note('b11', 6.5, 47.4, withSub('T', 'B', ' (Blowoff)')),
  leader('b12', 8.6, 46.3, 9.36, 43.2),
  note('b13', 6.9, 32.9, 'Flow rate', 13.5),
  leader('b14', 8.2, 30.7, 9.3, 22.1),
  note('b15', 5.05, 17.3, withSub('T', 'in', ' (heat-pump inlet)')),
  leader('b16', 8.13, 15.9, 10.0, 5.7),
  note('b17', 4.7, -4.6, withSub('T', 'out', ' (heat-pump outlet)')),
  leader('b18', 6.9, -3.6, 9.64, 8.1),
];

const notesC = [
  note('c1', 12.08, 57.5, 'HP operation', 12, false),
  arrow('c2', 7.06, 17.2, 54.4, 'hp'),
  note('c3', 19.84, 57.1, 'HP operation', 12, false),
  arrow('c4', 18.17, 21.56, 54.6, 'hp'),
  arrow('c5', 5.96, 7.1, 52.3, 'dr'),
  note('c6', 6.08, 49.1, 'Drainage', 12, false),
  arrow('c7', 21.64, 22.77, 52.6, 'dr'),
  note('c8', 22.43, 49.9, 'Drainage', 12, false),
  note('c9', 10.28, 51.8, 'Powerful mode', 8.5),
  arrow('c10', 12.02, 12.97, 51.5, 'pw'),
  note('c11', 4.32, 36.0, withSub('T', 'B', ' (Blowoff)')),
  leader('c12', 6.3, 36.8, 7.63, 40.7),
  note('c13', 9.43, 25.7, 'Flow rate', 13.5),
  leader('c14', 10.28, 23.9, 11.32, 17.3),
  note('c15', 3.46, 24.6, withSub('T', 'in', ' (heat-pump inlet)')),
  leader('c16', 6.3, 22.8, 8.1, 12.2),
  note('c17', 4.6, -3.4, withSub('T', 'out', ' (heat-pump outlet)')),
  leader('c18', 8.3, -1.4, 9.8, 6.0),
];

const notesD = [
  note('d1', 14.27, 57.7, 'HP operation', 12, false),
  arrow('d2', 7.94, 20.16, 54.8, 'hp'),
  arrow('d3', 20.12, 21.64, 52.4, 'dr'),
  note('d4', 21.83, 49.5, 'Drainage', 12, false),
  note('d5', 4.6, 47.1, withSub('T', 'B', ' (Blowoff)')),
  leader('d6', 6.8, 47.1, 8.22, 42.8),
  note('d7', 13.13, 24.5, 'Flow rate', 13.5),
  leader('d8', 13.32, 22.1, 14.36, 16.3),
  note('d9', 4.25, 24.5, withSub('T', 'in', ' (heat-pump inlet)')),
  leader('d10', 6.52, 22.5, 8.88, 11.2),
  note('d11', 12.57, -3.9, withSub('T', 'out', ' (heat-pump outlet)')),
  leader('d12', 12.0, -1.7, 10.73, 6.1),
];

function Caption({ x, y, tag, text }: { x: number; y: number; tag: string; text: string }) {
  return (
    <div
      style={{
        position: 'absolute',
        left: x,
        top: y,
        transform: 'translate(-50%, -50%)',
        whiteSpace: 'nowrap',
        fontFamily: '"DejaVu Serif", serif',
        fontSize: 17.5,
        color: '#111',
      }}
    >
      (<b>{tag}</b>) {text}
    </div>
  );
}

export default function App() {
  return (
    <div style={{ position: 'absolute', left: 0, top: 0, width: 1067, height: 749, background: '#fff', overflow: 'hidden' }}>
      <Panel left={47} top={15} w={421} h={299} blowoff={aBlowoff} tin={aTin} tout={aTout} flow={aFlow} notes={notesA} />
      <Panel left={590} top={15} w={423} h={299} blowoff={bBlowoff} tin={bTin} tout={bTout} flow={bFlow} notes={notesB} />
      <Panel left={46} top={384} w={422} h={299} blowoff={cBlowoff} tin={cTin} tout={cTout} flow={cFlow} notes={notesC} />
      <Panel left={590} top={385} w={424} h={299} blowoff={dBlowoff} tin={dTin} tout={dTout} flow={dFlow} notes={notesD} />
      <Caption x={260} y={360} tag="a" text="Normal operation on 15 Feb. 2017" />
      <Caption x={806} y={360} tag="b" text="Drainage during the HP operation on 26 Jan. 2018" />
      <Caption x={259} y={734} tag="c" text="Drainage before the HP operation on 28 Jan. 2018" />
      <Caption x={804} y={734} tag="d" text="Drainage after the HP operation on 18 Jan. 2018" />
    </div>
  );
}
